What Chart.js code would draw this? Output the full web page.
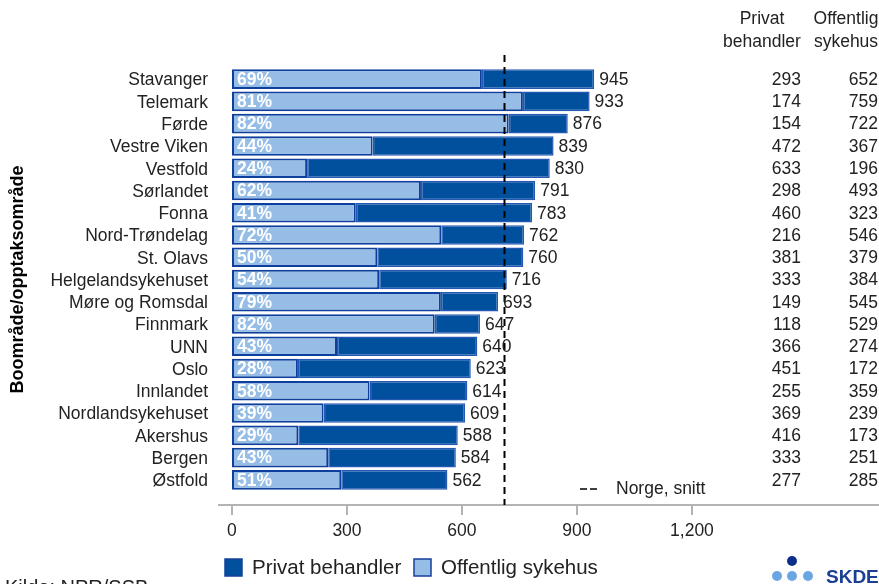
<!DOCTYPE html>
<html>
<head>
<meta charset="utf-8">
<script src="https://cdn.jsdelivr.net/npm/chart.js@4.4.1/dist/chart.umd.min.js"></script>
<style>
  html, body { margin: 0; padding: 0; background: #fff; }
  #wrap { position: relative; width: 879px; height: 584px; }
</style>
</head>
<body>
<div id="wrap"><canvas id="chart"></canvas></div>
<script>
// Data (rate per area, split by provider)
const areas = ['Stavanger', 'Telemark', 'Førde', 'Vestre Viken', 'Vestfold', 'Sørlandet', 'Fonna',
  'Nord-Trøndelag', 'St. Olavs', 'Helgelandsykehuset', 'Møre og Romsdal', 'Finnmark', 'UNN', 'Oslo',
  'Innlandet', 'Nordlandsykehuset', 'Akershus', 'Bergen', 'Østfold'];
const privat = [293, 174, 154, 472, 633, 298, 460, 216, 381, 333, 149, 118, 366, 451, 255, 369, 416, 333, 277];
const offentlig = [652, 759, 722, 367, 196, 493, 323, 546, 379, 384, 545, 529, 274, 172, 359, 239, 173, 251, 285];
const totals = [945, 933, 876, 839, 830, 791, 783, 762, 760, 716, 693, 647, 640, 623, 614, 609, 588, 584, 562];
const shares = [69, 81, 82, 44, 24, 62, 41, 72, 50, 54, 79, 82, 43, 28, 58, 39, 29, 43, 51];
const xTicks = [0, 300, 600, 900, 1200];
const norgeSnitt = 710;

const FONT = '"Liberation Sans", Arial, sans-serif';
const SIZE = 17.5;
const DARK = '#00509e';
const LIGHT = '#95bde6';
const TEXT = '#222';

// Extra drawing: average line, value labels, side table, legend, source and logo
const overlay = {
  id: 'overlay',
  afterDatasetsDraw(chart) {
    const ctx = chart.ctx;
    const x = chart.scales.x;
    const y = chart.scales.y;
    const axisY = 505;

    ctx.save();

    // x axis line with tick marks
    ctx.strokeStyle = '#b3b3b3';
    ctx.lineWidth = 2;
    ctx.beginPath();
    ctx.moveTo(chart.chartArea.left, axisY);
    ctx.lineTo(chart.chartArea.right, axisY);
    xTicks.forEach(v => {
      const px = Math.round(x.getPixelForValue(v));
      ctx.moveTo(px, axisY);
      ctx.lineTo(px, axisY + 10);
    });
    ctx.stroke();

    // Norway average
    const sx = Math.round(x.getPixelForValue(norgeSnitt)) + 0.5;
    ctx.strokeStyle = '#000';
    ctx.lineWidth = 2;
    ctx.setLineDash([7, 5]);
    ctx.beginPath();
    ctx.moveTo(sx, 55);
    ctx.lineTo(sx, axisY);
    ctx.stroke();
    ctx.setLineDash([]);

    const regular = SIZE + 'px ' + FONT;
    ctx.font = regular;
    ctx.textBaseline = 'middle';
    areas.forEach((a, i) => {
      const py = y.getPixelForValue(i) + 1;
      // total after the bar
      ctx.fillStyle = TEXT;
      ctx.textAlign = 'left';
      ctx.fillText(String(totals[i]), x.getPixelForValue(privat[i] + offentlig[i]) + 5, py);
      // public share inside the bar
      ctx.font = 'bold ' + SIZE + 'px ' + FONT;
      ctx.fillStyle = '#fff';
      ctx.fillText(shares[i] + '%', x.getPixelForValue(0) + 5, py);
      ctx.font = regular;
      // side table
      ctx.fillStyle = TEXT;
      ctx.textAlign = 'right';
      ctx.fillText(String(privat[i]), 801, py);
      ctx.fillText(String(offentlig[i]), 878, py);
    });

    // table headers
    ctx.textAlign = 'center';
    ctx.fillText('Privat', 762, 19);
    ctx.fillText('behandler', 762, 42);
    ctx.fillText('Offentlig', 846, 19);
    ctx.fillText('sykehus', 846, 42);

    // average legend
    ctx.strokeStyle = '#000';
    ctx.lineWidth = 1.5;
    ctx.beginPath();
    ctx.moveTo(580, 489); ctx.lineTo(587, 489);
    ctx.moveTo(590, 489); ctx.lineTo(597, 489);
    ctx.stroke();
    ctx.textAlign = 'left';
    ctx.fillText('Norge, snitt', 616, 489);

    // series legend
    ctx.font = '20.5px ' + FONT;
    ctx.lineWidth = 1.5;
    ctx.fillStyle = DARK;
    ctx.fillRect(225, 559, 17, 17);
    ctx.strokeStyle = '#16409a';
    ctx.strokeRect(225, 559, 17, 17);
    ctx.fillStyle = TEXT;
    ctx.fillText('Privat behandler', 252, 568);
    ctx.fillStyle = LIGHT;
    ctx.fillRect(414, 559, 17, 17);
    ctx.strokeStyle = '#16409a';
    ctx.strokeRect(414, 559, 17, 17);
    ctx.fillStyle = TEXT;
    ctx.fillText('Offentlig sykehus', 441, 568);

    // source
    ctx.textBaseline = 'alphabetic';
    ctx.font = '20px ' + FONT;
    ctx.fillText('Kilde: NPR/SSB', 5, 594);

    // logo
    ctx.fillStyle = '#0d2e8a';
    ctx.beginPath(); ctx.arc(792, 561, 5, 0, Math.PI * 2); ctx.fill();
    ctx.fillStyle = '#6aa7e2';
    [777, 792, 808].forEach(cx => {
      ctx.beginPath(); ctx.arc(cx, 576, 5, 0, Math.PI * 2); ctx.fill();
    });
    ctx.fillStyle = '#1b3f94';
    ctx.font = 'bold 19px ' + FONT;
    ctx.fillText('SKDE', 826, 583);

    ctx.restore();
  }
};

new Chart(document.getElementById('chart'), {
  type: 'bar',
  data: {
    labels: areas,
    datasets: [
      {
        label: 'Offentlig sykehus',
        data: offentlig,
        backgroundColor: LIGHT,
        borderColor: '#0f3f9c',
        borderWidth: 2,
        borderSkipped: false,
        barPercentage: 0.88,
        categoryPercentage: 1
      },
      {
        label: 'Privat behandler',
        data: privat,
        backgroundColor: DARK,
        borderColor: '#2458b4',
        borderWidth: 1.5,
        borderSkipped: false,
        barPercentage: 0.88,
        categoryPercentage: 1
      }
    ]
  },
  options: {
    indexAxis: 'y',
    responsive: true,
    maintainAspectRatio: false,
    animation: false,
    layout: { padding: { top: 68, right: 0, bottom: 0, left: 0 } },
    plugins: {
      legend: { display: false },
      tooltip: { enabled: false }
    },
    scales: {
      x: {
        stacked: true,
        min: -36.5,
        max: 1688,
        afterBuildTicks: scale => {
          scale.ticks = xTicks.map(v => ({ value: v }));
        },
        afterFit: scale => { scale.height = 93; },
        grid: { display: false, drawTicks: false },
        border: { display: false },
        ticks: {
          padding: 30,
          color: TEXT,
          font: { family: FONT, size: SIZE },
          maxRotation: 0,
          callback: v => v.toLocaleString('en-US')
        }
      },
      y: {
        stacked: true,
        afterFit: scale => { scale.width = 218; },
        grid: { display: false, drawTicks: false },
        border: { display: false },
        ticks: {
          autoSkip: false,
          padding: 10,
          labelOffset: 1.5,
          color: TEXT,
          font: { family: FONT, size: SIZE }
        },
        title: {
          display: true,
          text: 'Boområde/opptaksområde',
          color: '#000',
          font: { family: FONT, size: 18, weight: 'bold' },
          padding: { top: 7, bottom: 0 }
        }
      }
    }
  },
  plugins: [overlay]
});
</script>
</body>
</html>
